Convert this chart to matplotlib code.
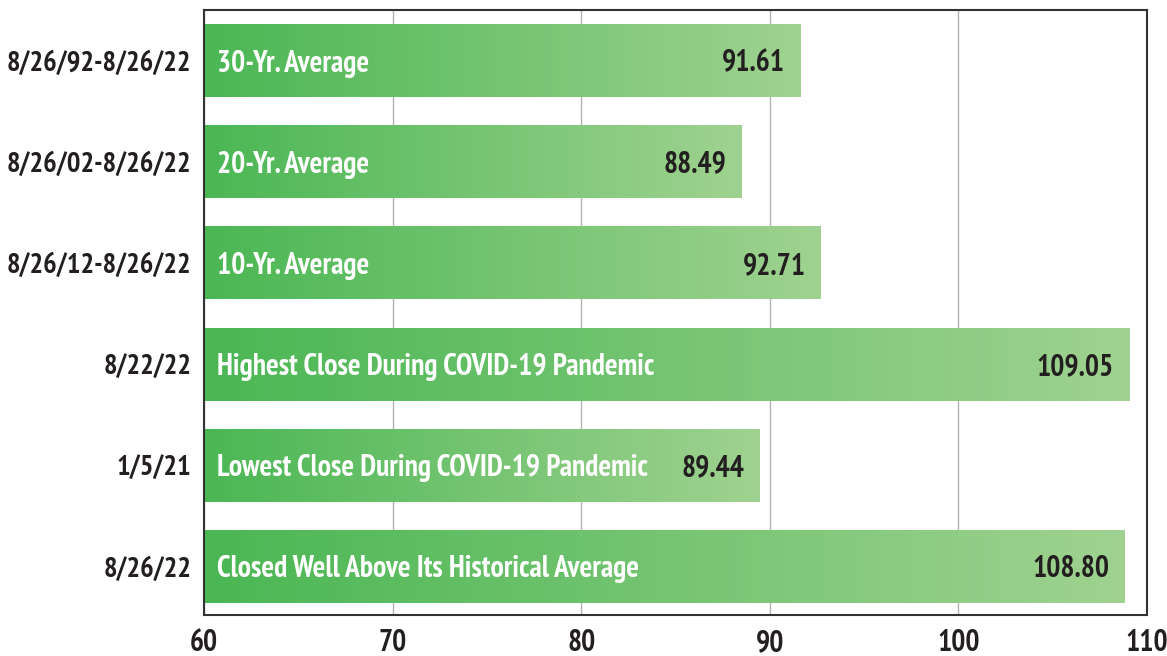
import matplotlib
matplotlib.use("Agg")
import matplotlib.pyplot as plt
import numpy as np
from matplotlib.colors import LinearSegmentedColormap

periods = ["8/26/92-8/26/22", "8/26/02-8/26/22", "8/26/12-8/26/22",
           "8/22/22", "1/5/21", "8/26/22"]
labels = ["30-Yr. Average", "20-Yr. Average", "10-Yr. Average",
          "Highest Close During COVID-19 Pandemic",
          "Lowest Close During COVID-19 Pandemic",
          "Closed Well Above Its Historical Average"]
values = [91.61, 88.49, 92.71, 109.05, 89.44, 108.80]
xticks = [60, 70, 80, 90, 100, 110]

FAM = ["PT Sans Narrow", "DejaVu Sans"]
FS = 21.3
DARK = "#231f20"

fig = plt.figure(figsize=(11.67, 6.56), dpi=100)
ax = fig.add_axes([204/1167, 1 - 615/656, (1147-204)/1167, (615-10)/656])

cmap = LinearSegmentedColormap.from_list("g", ["#4bb754", "#9fd290"])
grad = np.linspace(0, 1, 256).reshape(1, -1)
n = len(values)
ys = np.arange(n)[::-1]
h = 0.72
for y, v, lab in zip(ys, values, labels):
    ax.imshow(grad, cmap=cmap, aspect="auto", extent=[60, v, y - h/2, y + h/2],
              zorder=2, interpolation="bilinear")
    ax.text(60.7, y, lab, color="white", fontsize=FS, fontweight="bold",
            family=FAM, va="center_baseline", ha="left", zorder=3)
    ax.text(v - 0.8, y, f"{v:.2f}", color=DARK, fontsize=FS, fontweight="bold",
            family=FAM, va="center_baseline", ha="right", zorder=3)

ax.set_xlim(60, 110)
ax.set_ylim(-0.48, n - 0.5)
ax.set_xticks(xticks)
ax.set_xticklabels([str(t) for t in xticks], fontsize=FS, fontweight="bold",
                   family=FAM, color=DARK)
ax.set_yticks(ys)
ax.set_yticklabels(periods, fontsize=20.6, fontweight="bold", family=FAM, color=DARK)
ax.tick_params(axis="both", length=0)
ax.tick_params(axis="x", pad=10)
ax.tick_params(axis="y", pad=9)
ax.grid(axis="x", color="#b3b3b3", linewidth=1, zorder=1)
ax.set_axisbelow(True)
for s in ax.spines.values():
    s.set_color("#333333")
    s.set_linewidth(1.5)

fig.savefig("out.png", dpi=100)
